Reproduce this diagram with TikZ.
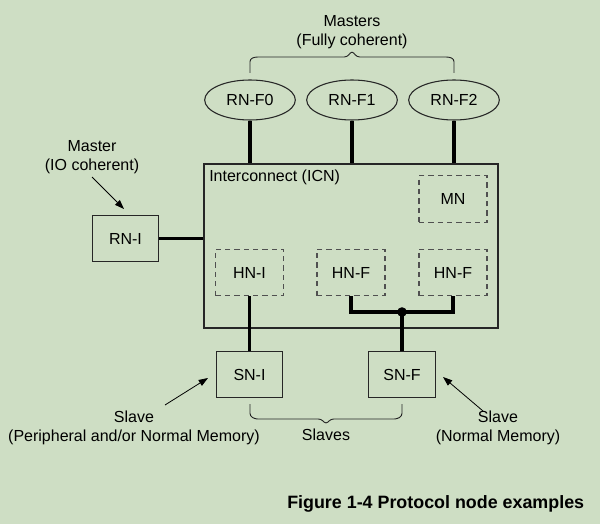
\documentclass[tikz,border=0pt]{standalone}
\usepackage{fontspec}
\setmainfont{Liberation Sans}
\usetikzlibrary{shapes.geometric,arrows.meta}
\definecolor{bg}{RGB}{206,222,196}
\definecolor{dash}{RGB}{80,80,80}
\begin{document}
\begin{tikzpicture}[x=0.75pt,y=-0.75pt,
  every node/.style={font=\fontsize{12}{14.5}\selectfont, text=black},
  thin line/.style={line width=0.8pt, draw=black!85},
  thick line/.style={line width=2.3pt, draw=black},
  oval/.style={ellipse, draw=black!85, line width=0.8pt, minimum width=68pt, minimum height=30pt, inner sep=0pt},
  solidbox/.style={rectangle, draw=black!85, line width=0.8pt, minimum width=50pt, minimum height=34pt, inner sep=0pt},
  dashbox/.style={rectangle, draw=dash, dashed, dash pattern=on 4pt off 3pt, line width=0.8pt, minimum width=51pt, minimum height=35pt, inner sep=0pt},
  label text/.style={align=center, inner sep=0pt},
  pointer/.style={-{Triangle[length=7pt,width=5pt]}, line width=0.6pt, draw=black}
]
\fill[bg] (0,0) rectangle (600,524);
\useasboundingbox (0,0) rectangle (600,524);

% Interconnect box
\node[rectangle, draw=black!85, line width=0.8pt, minimum width=220.5pt, minimum height=123pt, inner sep=0pt] (icn) at (351,246) {};
\node[anchor=north west, inner sep=0pt] (icnlabel) at (209,170) {Interconnect (ICN)};

% Masters
\node[oval] (rnf0) at (250,100) {RN-F0};
\node[oval] (rnf1) at (352,100) {RN-F1};
\node[oval] (rnf2) at (454,100) {RN-F2};
\node[label text] (masters) at (352,32) {Masters\\(Fully coherent)};

% Top brace
\coordinate (tb1) at (250,73);
\coordinate (tb2) at (454,73);
\draw[thin line, line width=0.7pt, rounded corners=2pt] (tb1) -- (250,59) -- (255,57) -- (347,57) -- (352,51) -- (357,57) -- (449,57) -- (454,59) -- (tb2);

% Connections to ICN
\draw[thick line] (rnf0.south) -- (rnf0.south |- icn.north);
\draw[thick line] (rnf1.south) -- (rnf1.south |- icn.north);
\draw[thick line] (rnf2.south) -- (rnf2.south |- icn.north);

% RN-I
\node[solidbox] (rni) at (125.5,238.5) {RN-I};
\draw[thick line] (rni.east) -- (rni.east -| icn.west);
\node[label text] (master) at (92,157) {Master\\(IO coherent)};
\coordinate (ma) at (92,177);
\draw[pointer] (ma) -- (124,209);

% Inner dashed boxes
\node[dashbox] (mn) at (453,199) {MN};
\node[dashbox] (hni) at (249.5,272.5) {HN-I};
\node[dashbox] (hnf1) at (351,272.5) {HN-F};
\node[dashbox] (hnf2) at (453,272.5) {HN-F};

% Slaves
\node[solidbox] (sni) at (249.5,374.5) {SN-I};
\node[solidbox] (snf) at (402,374.5) {SN-F};

\draw[thick line] (hni.south) -- (sni.north);
\coordinate (junc) at (402,312);
\draw[thick line] (hnf1.south) -- (hnf1.south |- junc) -- (hnf2.south |- junc) -- (hnf2.south);
\draw[thick line] (junc) -- (snf.north);
\fill (junc) circle (3.6pt);

% Slave labels
\node[label text] (slaveL) at (134,428) {Slave\\(Peripheral and/or Normal Memory)};
\node[label text] (slaveR) at (498,428) {Slave\\(Normal Memory)};
\coordinate (sl) at (165,405);
\coordinate (sr) at (483,411);
\draw[pointer] (sl) -- (208,378);
\draw[pointer] (sr) -- (443,377);

% Bottom brace
\draw[thin line, line width=0.7pt, rounded corners=2pt] (250,404) -- (250,416) -- (255,419) -- (321,419) -- (326,424) -- (331,419) -- (397,419) -- (402,416) -- (402,404);
\node[label text] (slaves) at (326,435) {Slaves};

% Caption
\node[anchor=west, inner sep=0pt, font=\fontsize{13.4}{15}\selectfont\bfseries] (caption) at (287,504) {Figure 1-4 Protocol node examples};
\end{tikzpicture}
\end{document}
